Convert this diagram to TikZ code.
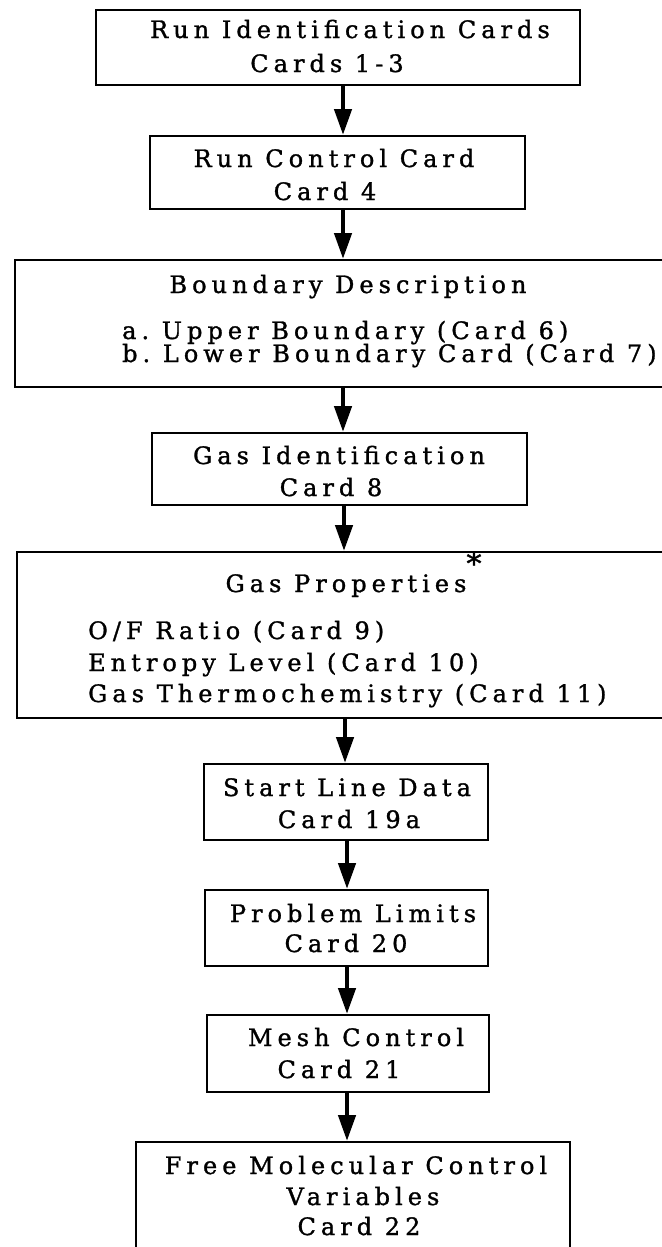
\documentclass[tikz,border=0pt]{standalone}
\usepackage{fontspec}
\usetikzlibrary{arrows.meta}
\newfontfamily\twfont{DejaVu Serif}[LetterSpace=21,FakeBold=1.2]
\begin{document}
\begin{tikzpicture}[x=1pt,y=-1pt,
  box/.style={draw=black, line width=2pt, inner sep=0pt, fill=none},
  txt/.style={inner sep=0pt, font=\twfont\fontsize{24}{28}\selectfont},
  ctxt/.style={txt, anchor=base},
  ltxt/.style={txt, anchor=base west},
  arr/.style={line width=4.5pt, -{Triangle[length=26pt,width=17pt]}}]
\useasboundingbox (0,0) rectangle (661,1247);
\fill[white] (0,0) rectangle (661,1247);
% boxes
\node[box, minimum width=484pt, minimum height=75pt] (b1) at (338,47.5) {};
\node[box, minimum width=375pt, minimum height=73pt] (b2) at (337.5,172.5) {};
\node[box, minimum width=655pt, minimum height=127pt] (b3) at (342.5,323.5) {};
\node[box, minimum width=375pt, minimum height=72pt] (b4) at (339.5,469) {};
\node[box, minimum width=653pt, minimum height=166pt] (b5) at (343.5,635) {};
\node[box, minimum width=284pt, minimum height=76pt] (b6) at (346,802) {};
\node[box, minimum width=283pt, minimum height=76pt] (b7) at (346.5,928) {};
\node[box, minimum width=282pt, minimum height=77pt] (b8) at (348,1053.5) {};
\node[box, minimum width=434pt, minimum height=120pt] (b9) at (353,1202) {};
% texts
\node[ctxt] (t1a) at (350,38) {Run Identification Cards};
\node[ctxt] (t1b) at (327,72) {Cards 1-3};
\node[ctxt] (t2a) at (334,167) {Run Control Card};
\node[ctxt] (t2b) at (325,200) {Card 4};
\node[ctxt] (t3a) at (348,293) {Boundary Description};
\node[ltxt] (t3b) at (122,339) {a.\ Upper Boundary (Card 6)};
\node[ltxt] (t3c) at (122,362) {b.\ Lower Boundary Card (Card 7)};
\node[ctxt] (t4a) at (339,464) {Gas Identification};
\node[ctxt] (t4b) at (331,496) {Card 8};
\node[ctxt] (t5a) at (346,592) {Gas Properties};
\node[txt, font=\twfont\fontsize{30}{30}\selectfont] (star) at (474,563) {*};
\node[ltxt] (t5b) at (88,639) {O/F Ratio (Card 9)};
\node[ltxt] (t5c) at (88,671) {Entropy Level (Card 10)};
\node[ltxt] (t5d) at (88,702) {Gas Thermochemistry (Card 11)};
\node[ctxt] (t6a) at (347,796) {Start Line Data};
\node[ctxt] (t6b) at (349,828) {Card 19a};
\node[ctxt] (t7a) at (353,922) {Problem Limits};
\node[ctxt] (t7b) at (346,952) {Card 20};
\node[ctxt] (t8a) at (356,1046) {Mesh Control};
\node[ctxt] (t8b) at (339,1078) {Card 21};
\node[ctxt] (t9a) at (356,1174) {Free Molecular Control};
\node[ctxt] (t9b) at (363,1205) {Variables};
\node[ctxt] (t9c) at (359,1235) {Card 22};
% arrow columns
\coordinate (c1) at (343,0);
\coordinate (c2) at (343,0);
\coordinate (c3) at (343,0);
\coordinate (c4) at (344,0);
\coordinate (c5) at (345,0);
\coordinate (c6) at (347,0);
\coordinate (c7) at (347,0);
\coordinate (c8) at (347,0);
\draw[arr] (b1.south -| c1) -- (b2.north -| c1);
\draw[arr] (b2.south -| c2) -- (b3.north -| c2);
\draw[arr] (b3.south -| c3) -- (b4.north -| c3);
\draw[arr] (b4.south -| c4) -- (b5.north -| c4);
\draw[arr] (b5.south -| c5) -- (b6.north -| c5);
\draw[arr] (b6.south -| c6) -- (b7.north -| c6);
\draw[arr] (b7.south -| c7) -- (b8.north -| c7);
\draw[arr] (b8.south -| c8) -- (b9.north -| c8);
\end{tikzpicture}
\end{document}
